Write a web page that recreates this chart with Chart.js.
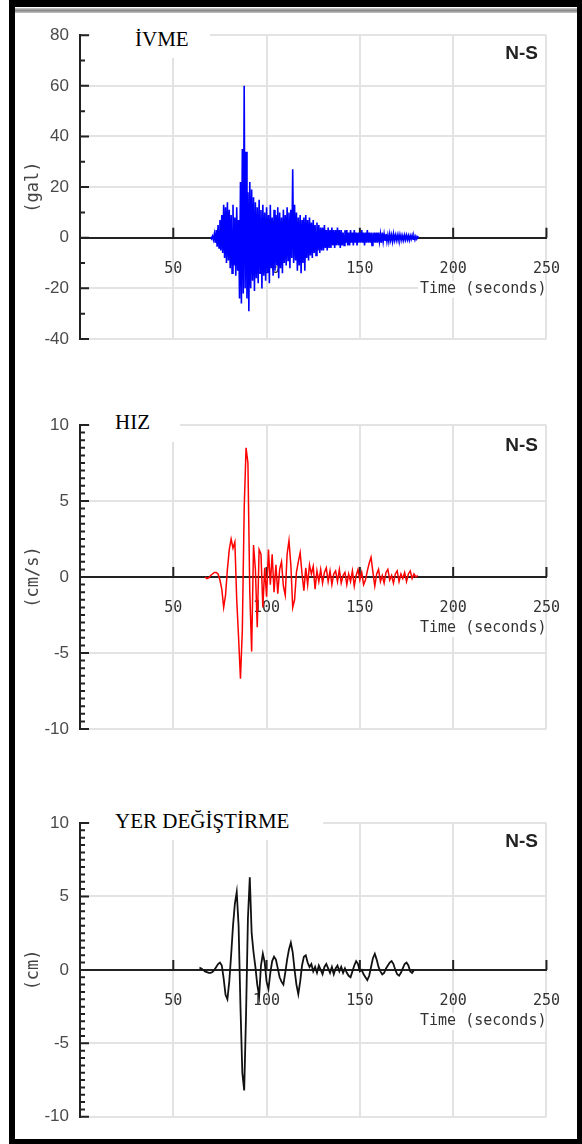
<!DOCTYPE html>
<html>
<head>
<meta charset="utf-8">
<script src="https://cdn.jsdelivr.net/npm/chart.js@4.4.1/dist/chart.umd.min.js"></script>
<style>
  body { margin: 0; background: #fff; }
  .page { position: relative; width: 582px; height: 1144px; overflow: hidden; background: #fff; }
  canvas { position: absolute; left: 0; }
  .frame {
    position: absolute; left: 9px; top: 0; width: 573px; height: 1144px; box-sizing: border-box;
    border-top: 7px solid #000; border-left: 6px solid #000; border-right: 5px solid #000; border-bottom: 5px solid #000;
    z-index: 5;
  }
  .bevel { position: absolute; left: 15px; top: 8px; width: 562px; height: 5px; z-index: 5;
    background: linear-gradient(#d0d0d0, #8a8a8a, #c4c4c4); }
  .name { position: absolute; left: 90px; background: #fff; z-index: 3;
    font-family: 'Liberation Serif', 'Times New Roman', serif; font-size: 21px; line-height: 21px; color: #000; }
  .name span { position: absolute; white-space: nowrap; }
  .ns { position: absolute; right: 44px; z-index: 3; line-height: 20px;
    font: bold 19px 'Liberation Sans', Arial, sans-serif; color: #222; }
</style>
</head>
<body>
<div class="page">
  <canvas id="accChart" width="582" height="366" style="top:14px"></canvas>
  <canvas id="velChart" width="582" height="400" style="top:380px"></canvas>
  <canvas id="dispChart" width="582" height="358" style="top:780px"></canvas>

  <div class="name" style="top:18px;width:120px;height:40px"><span style="left:45px;top:11px">İVME</span></div>
  <div class="name" style="top:402px;width:90px;height:40px"><span style="left:25px;top:10px">HIZ</span></div>
  <div class="name" style="top:800px;width:233px;height:40px"><span style="left:25px;top:11px">YER DEĞİŞTİRME</span></div>

  <div class="ns" style="top:42px">N-S</div>
  <div class="ns" style="top:434px">N-S</div>
  <div class="ns" style="top:830px">N-S</div>

  <div class="frame"></div>
  <div class="bevel"></div>
</div>
<script>
// time axis (seconds)
const xTickValues = [0, 50, 100, 150, 200, 250];
const xTitle = 'Time (seconds)';

// acceleration (gal), sampled every 0.5 s from 70 s
const accStart = 70;
const accStep = 0.5;
const accValues = [
  0.3, -0.4, 0.6, -0.8, 1.5, -2, 3, -3.5, 5, -4, 7, -5, 9, -6, 13, -8, 12, -10, 14, -9,
  11, -12, 9, -14, 13, -11, 8, -15, 12, -13, 7, -24, 22, -26, 35, -22, 60, -20, 34, -24,
  18, -29, 22, -20, 19, -17, 16, -21, 14, -16, 12, -18, 15, -14, 11, -20, 13, -15, 10, -17,
  12, -14, 9, -18, 13, -12, 8, -15, 11, -13, 9, -11, 12, -16, 10, -12, 8, -14, 11, -10,
  9, -11, 12, -9, 10, -12, 11, -8, 27, -10, 13, -9, 10, -13, 8, -11, 9, -14, 7, -10,
  8, -13, 9, -8, 7, -9, 8, -7, 6, -8, 7, -6, 5, -7, 6, -5, 5, -6, 4, -5,
  4, -5, 5, -4, 3, -5, 4, -4, 3, -4, 4, -3, 3, -4, 3, -3, 4, -3, 3, -4,
  3, -3, 2, -3, 3, -2, 3, -3, 2, -3, 3, -2, 2, -3, 3, -2, 2, -3, 2, -2,
  2, -2, 3, -2, 2, -3, 2, -2, 3, -2, 2, -2, 2, -3, 2, -2, 2, -2, 2, -2,
  2, -1.5, 1.5, -2, 2, -1.5, 1.5, -1, 1.5, -1.5, 1, -1.5, 1.5, -1, 1, -1.5, 1.5, -1, 1, -1,
  1, -1, 1.2, -0.8, 1, -1, 0.8, -1, 1, -0.8, 1, -0.8, 0.8, -1, 0.8, -0.6, 1, -0.6, 0.6, -0.8,
  0.6, -0.5, 0.4, 0
];

// velocity (cm/s), every 1 s from 67 s
const velStart = 67;
const velStep = 1;
const velValues = [
  0, -0.1, -0.05, 0.1, 0.2, 0.3, 0.3, 0.2, -0.2, -0.8,
  -2.0, -1.2, 0.5, 1.8, 2.5, 1.9, 2.3, -1.5, -4.0, -6.7,
  -3.5, 4.5, 8.5, 7.5, -1.0, -4.9, 2.1, 0.5, -3.3, 1.8,
  1.5, -2.0, 0.6, -1.3, 1.8, -0.5, 1.5, -1.0, 0.8, -1.1,
  0.5, 1.0, -0.6, -1.2, 1.5, 2.4, 0.8, -2.0, -1.5, 0.3,
  1.0, 1.6, 0.2, -0.9, 0.6, -0.5, 0.8, 0.2, 0.7, -0.8,
  0.4, -0.3, 0.5, -0.4, 0.3, 0.6, -0.3, 0.4, -0.5, 0.2,
  0.4, -0.3, 0.5, -0.4, 0.1, 0.3, -0.5, 0.2, -0.3, 0.4,
  -0.6, 0.1, 0.5, -0.2, 0.3, -0.5, -0.2, 0.4, 0.9, 1.3,
  0.3, -0.6, 0.2, 0.5, -0.3, 0.1, -0.4, 0.3, 0.5, -0.2,
  0.1, -0.4, 0.2, 0.4, -0.3, 0.2, -0.1, 0.3, -0.3, 0.2,
  0.4, -0.1, 0.2, 0.0, 0.1
];

// displacement (cm), every 1 s from 64 s
const dispStart = 64;
const dispStep = 1;
const dispValues = [
  0.15, 0.1, 0.0, -0.1, -0.15, -0.2, -0.2, -0.15, 0.0, 0.2,
  0.4, 0.5, 0.3, -0.6, -1.7, -2.0, -0.8, 1.0, 3.0, 4.5,
  5.3, 3.0, -2.5, -7.0, -8.2, -3.0, 3.5, 6.3, 2.5, 1.2,
  0.2, -1.0, -1.8, 0.3, 1.1, 0.5, -0.8, -1.3, -0.2, 0.6,
  0.9, 0.7, 0.1, -0.5, -0.8, -1.0, -0.2, 0.7, 1.4, 1.85,
  1.2, 0.0, -1.0, -1.65, -0.8, 0.3, 0.9, 1.0, 0.5, 0.2,
  0.4, -0.1, 0.2, -0.2, 0.3, 0.0, -0.3, 0.2, 0.4, 0.1,
  -0.2, 0.2, -0.3, 0.1, 0.3, -0.1, 0.2, -0.2, 0.1, -0.2,
  -0.4, -0.5, -0.1, 0.3, 0.6, 0.4, -0.1, 0.0, -0.3, -0.5,
  -0.7, -0.4, 0.2, 0.8, 1.1, 0.7, 0.2, -0.1, -0.3, -0.2,
  0.1, 0.3, 0.5, 0.6, 0.4, 0.0, -0.3, -0.4, -0.2, 0.1,
  0.4, 0.5, 0.3, -0.1, -0.2, 0.0
];

// inward tick marks on the y axis, upward ticks on the zero line,
// and the time label (on a white patch so the grid does not run through it)
const axisTicks = {
  id: 'axisTicks',
  beforeDatasetsDraw(chart, args, opts) {
    const {ctx, chartArea, scales: {x, y}} = chart;
    const y0 = y.getPixelForValue(0);
    ctx.save();
    ctx.strokeStyle = '#222';
    ctx.lineWidth = 2;
    ctx.beginPath();
    xTickValues.forEach(v => {
      if (v === 0) return;
      const px = x.getPixelForValue(v);
      ctx.moveTo(px, y0);
      ctx.lineTo(px, y0 - 10);
    });
    for (let v = y.min; v <= y.max + 1e-9; v += opts.minor) {
      const py = y.getPixelForValue(v);
      const r = v / opts.major;
      const major = Math.abs(r - Math.round(r)) < 1e-6;
      ctx.moveTo(chartArea.left, py);
      ctx.lineTo(chartArea.left + (major ? 9 : 5), py);
    }
    ctx.stroke();

    const tx = x.getPixelForValue(x.max);
    const ty = y0 + 51;
    ctx.font = "15px 'DejaVu Sans Mono', monospace";
    const w = ctx.measureText(xTitle).width;
    ctx.fillStyle = '#fff';
    ctx.fillRect(tx - w - 2, ty - 8, w + 1, 17);
    ctx.fillStyle = '#333';
    ctx.textAlign = 'right';
    ctx.textBaseline = 'middle';
    ctx.fillText(xTitle, tx, ty);
    ctx.restore();
  }
};

function drawPanel(id, cfg) {
  const points = cfg.values.map((v, i) => ({x: cfg.start + i * cfg.step, y: v}));
  new Chart(document.getElementById(id), {
    type: 'line',
    data: {
      datasets: [{
        data: points,
        borderColor: cfg.color,
        borderWidth: cfg.width,
        pointRadius: 0,
        tension: 0
      }]
    },
    options: {
      responsive: false,
      animation: false,
      events: [],
      layout: { padding: { left: 20, right: 34, top: cfg.padTop, bottom: cfg.padBottom } },
      plugins: {
        legend: { display: false },
        tooltip: { enabled: false },
        axisTicks: { major: cfg.yStep, minor: cfg.yMinor }
      },
      scales: {
        x: {
          type: 'linear',
          position: { y: 0 },
          min: 0,
          max: 250,
          afterBuildTicks: s => { s.ticks = xTickValues.map(v => ({value: v})); },
          ticks: {
            padding: 22,
            maxRotation: 0,
            autoSkip: false,
            color: '#333',
            font: { family: "'DejaVu Sans Mono', monospace", size: 15 },
            callback: v => v === 0 ? '' : String(v)
          },
          grid: {
            drawTicks: false,
            lineWidth: 2,
            color: c => (c.tick && c.tick.value === 0) ? 'rgba(0,0,0,0)' : '#e3e3e3'
          },
          border: { color: '#222', width: 2 }
        },
        y: {
          min: cfg.yMin,
          max: cfg.yMax,
          afterFit: s => { s.width = 60; },
          ticks: {
            stepSize: cfg.yStep,
            padding: 11,
            color: '#4a4a4a',
            font: { family: "'Liberation Sans', Arial, sans-serif", size: 17 }
          },
          grid: {
            drawTicks: false,
            lineWidth: 2,
            color: c => (c.tick && c.tick.value === 0) ? 'rgba(0,0,0,0)' : '#e3e3e3'
          },
          border: { color: '#222', width: 2 },
          title: {
            display: true,
            text: cfg.yTitle,
            color: '#444',
            padding: { top: 3, bottom: 0 },
            font: { family: "'DejaVu Sans Mono', monospace", size: 17 }
          }
        }
      }
    },
    plugins: [axisTicks]
  });
}

drawPanel('accChart', {
  values: accValues, start: accStart, step: accStep, color: '#0000ff', width: 1.6,
  yMin: -40, yMax: 80, yStep: 20, yMinor: 10, yTitle: '(gal)', padTop: 18, padBottom: 41
});
drawPanel('velChart', {
  values: velValues, start: velStart, step: velStep, color: '#ff0000', width: 1.5,
  yMin: -10, yMax: 10, yStep: 5, yMinor: 0.5, yTitle: '(cm/s)', padTop: 45, padBottom: 51
});
drawPanel('dispChart', {
  values: dispValues, start: dispStart, step: dispStep, color: '#111111', width: 1.8,
  yMin: -10, yMax: 10, yStep: 5, yMinor: 0.5, yTitle: '(cm)', padTop: 43, padBottom: 11
});
</script>
</body>
</html>
